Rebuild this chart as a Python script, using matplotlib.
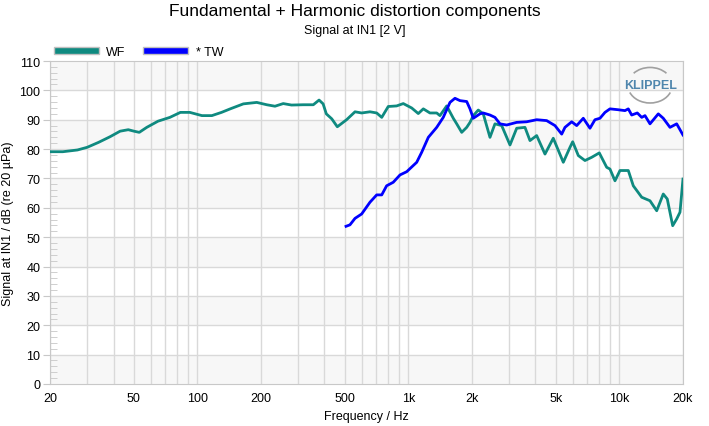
import matplotlib.pyplot as plt
from matplotlib.patches import Rectangle, Arc
from matplotlib.ticker import FixedLocator, NullFormatter, MultipleLocator

plt.rcParams['font.family'] = ['Liberation Sans', 'DejaVu Sans']

# WF curve (frequency in Hz, level in dB)
wf_f = [20, 23, 27, 30, 34, 38.5, 43, 47, 50, 53, 57.5, 65, 74, 83, 92, 105, 117, 130,
        143, 165, 191, 213, 233, 255, 279, 317, 354, 377, 394, 408, 433, 460, 509, 558,
        600, 657, 707, 747, 802, 879, 945, 1036, 1113, 1176, 1264, 1361, 1410, 1518,
        1631, 1693, 1788, 1888, 1957, 2029, 2142, 2262, 2434, 2570, 2766, 3028, 3258,
        3566, 3766, 4052, 4436, 4856, 5418, 5828, 6002, 6382, 6864, 7386, 8024, 8698,
        9016, 9522, 10056, 11012, 11630, 12748, 13954, 15014, 16128, 16850, 17876,
        18670, 19358, 20000]
wf_db = [79.1, 79.1, 79.7, 80.6, 82.3, 84.2, 86.1, 86.6, 86.1, 85.7, 87.4, 89.5, 90.8,
         92.5, 92.5, 91.4, 91.4, 92.5, 93.7, 95.4, 95.9, 95.1, 94.6, 95.5, 95.0, 95.1,
         95.1, 96.7, 95.4, 92.0, 90.3, 87.6, 90.0, 92.7, 92.3, 92.7, 92.3, 90.8, 94.5,
         94.7, 95.5, 94.0, 92.1, 93.7, 92.3, 92.3, 91.4, 94.7, 90.5, 88.6, 85.7, 87.4,
         89.1, 91.4, 93.3, 92.0, 84.0, 88.6, 88.0, 81.4, 87.1, 87.4, 82.9, 84.6, 78.3,
         83.7, 75.5, 80.6, 82.5, 77.8, 76.1, 77.2, 78.7, 73.8, 73.2, 69.2, 72.7, 72.7,
         67.5, 63.6, 62.4, 59.0, 64.7, 63.0, 53.9, 56.2, 58.5, 69.8]

# TW curve
tw_f = [506, 528, 558, 600, 657, 707, 747, 788, 847, 912, 981, 1094, 1155, 1242, 1361,
        1462, 1573, 1661, 1755, 1888, 1957, 2029, 2182, 2262, 2434, 2570, 2715, 2920,
        3258, 3632, 4052, 4518, 4948, 5324, 5518, 5938, 6270, 6738, 7248, 7654, 8084,
        8538, 9016, 9872, 10622, 11012, 11426, 12150, 12748, 13212, 13954, 15276, 16128,
        17356, 18670, 20000]
tw_db = [53.7, 54.2, 56.4, 57.9, 61.9, 64.4, 64.4, 67.5, 68.7, 71.2, 72.3, 75.5, 78.9,
         84.0, 87.4, 90.8, 95.9, 97.3, 96.5, 96.2, 93.7, 90.5, 92.0, 92.3, 91.6, 90.8,
         88.6, 88.2, 89.1, 89.3, 90.0, 89.7, 88.0, 85.1, 87.4, 89.3, 88.0, 90.5, 87.1,
         90.0, 90.5, 92.5, 93.7, 93.4, 93.1, 93.7, 91.6, 92.3, 90.8, 91.4, 88.6, 92.0,
         90.5, 87.4, 88.6, 84.8]

x_ticks = [20, 50, 100, 200, 500, 1000, 2000, 5000, 10000, 20000]
x_labels = ['20', '50', '100', '200', '500', '1k', '2k', '5k', '10k', '20k']

WF_COLOR = '#0f8a80'
TW_COLOR = '#0000ff'

fig = plt.figure(figsize=(7.09, 4.27), dpi=100)
ax = fig.add_axes([0.0705, 0.0984, 0.8928, 0.7564])

# alternating background bands
for lo in range(0, 110, 20):
    ax.axhspan(lo, lo + 10, color='#f7f7f7', zorder=0, lw=0)

grid_f = [m * 10 ** e for e in range(1, 5) for m in range(1, 10)]
grid_f = [g for g in grid_f if 20 <= g <= 20000]
for g in grid_f:
    ax.axvline(g, color='#d9d9d9', lw=1, zorder=1)
for yv in range(10, 110, 10):
    ax.axhline(yv, color='#d9d9d9', lw=1, zorder=1)

ax.semilogx(wf_f, wf_db, color=WF_COLOR, lw=2, zorder=3)
ax.semilogx(tw_f, tw_db, color=TW_COLOR, lw=2, zorder=4)

ax.set_xlim(20, 20000)
ax.set_ylim(0, 110)
ax.xaxis.set_major_locator(FixedLocator(x_ticks))
ax.set_xticklabels(x_labels)
ax.xaxis.set_minor_locator(FixedLocator(grid_f))
ax.xaxis.set_minor_formatter(NullFormatter())
ax.yaxis.set_major_locator(MultipleLocator(10))
ax.yaxis.set_minor_locator(MultipleLocator(2))
ax.tick_params(axis='x', which='both', length=0, labelsize=9, pad=6)
ax.tick_params(axis='y', which='major', length=5, color='#c8c8c8', labelsize=9, pad=2)
ax.tick_params(axis='y', which='minor', direction='in', length=5, color='#c8c8c8')
for s in ax.spines.values():
    s.set_color('#c8c8c8')

ax.set_xlabel('Frequency / Hz', fontsize=9, labelpad=4)
ax.set_ylabel('Signal at IN1 / dB (re 20 µPa)', fontsize=9, labelpad=4)

fig.text(0.5, 0.972, 'Fundamental + Harmonic distortion components', ha='center',
         va='center', fontsize=12.5)
fig.text(0.5, 0.927, 'Signal at IN1 [2 V]', ha='center', va='center', fontsize=9)

# legend
handles = [Rectangle((0, 0), 1, 1, facecolor=WF_COLOR, edgecolor='#c0c0c0', lw=1),
           Rectangle((0, 0), 1, 1, facecolor=TW_COLOR, edgecolor='#c0c0c0', lw=1)]
fig.legend(handles, ['WF', '* TW'], loc='center left', bbox_to_anchor=(0.06, 0.876),
           ncol=2, frameon=False, fontsize=9, handlelength=3.6, handleheight=0.55,
           handletextpad=0.6, columnspacing=1.4)

# logo
ax.text(0.948, 0.925, 'KLIPPEL', transform=ax.transAxes, ha='center', va='center',
        fontsize=9, color='#4f86ad', fontweight='bold')
ax.add_patch(Arc((0.948, 0.925), 0.07, 0.11, theta1=55, theta2=125,
                 transform=ax.transAxes, color='#a0a0a0', lw=1.2))
ax.add_patch(Arc((0.948, 0.925), 0.07, 0.11, theta1=215, theta2=325,
                 transform=ax.transAxes, color='#a0a0a0', lw=1.2))

fig.savefig('out.png', dpi=100)
